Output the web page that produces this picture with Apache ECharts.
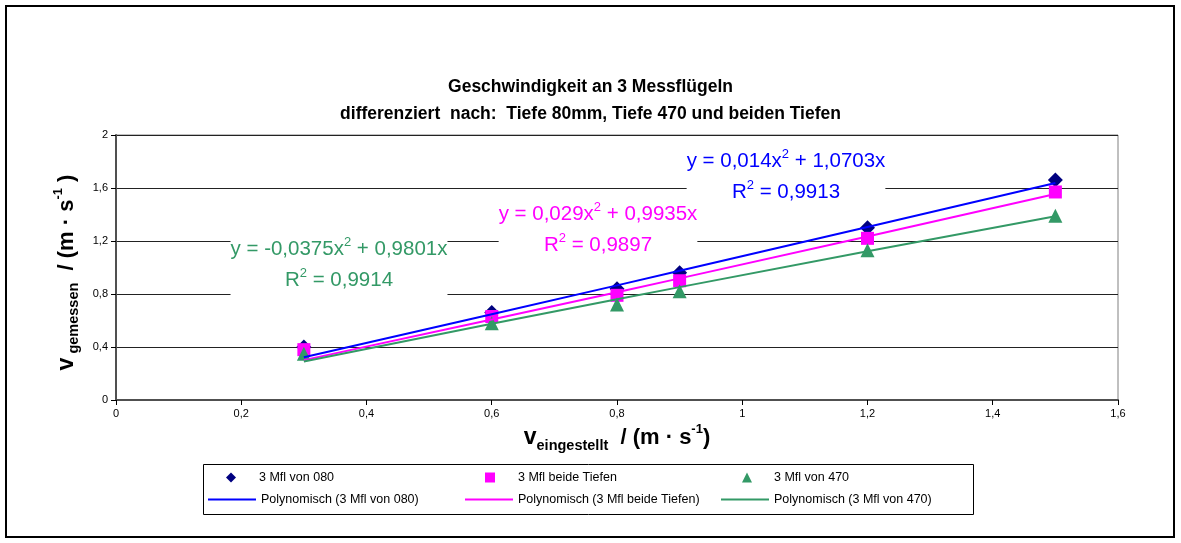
<!DOCTYPE html>
<html>
<head>
<meta charset="utf-8">
<script src="https://cdn.jsdelivr.net/npm/echarts@6/dist/echarts.min.js"></script>
<style>
  html, body { margin: 0; padding: 0; background: #fff; }
  #chart { width: 1181px; height: 543px; }
</style>
</head>
<body>
<div id="chart"></div>
<script>
// ---- data ----
const xSettings = [0.3, 0.6, 0.8, 0.9, 1.2, 1.5];
const mfl080 = [0.40, 0.66, 0.84, 0.96, 1.30, 1.66];
const mflBeide = [0.38, 0.63, 0.79, 0.90, 1.22, 1.57];
const mfl470 = [0.35, 0.58, 0.72, 0.82, 1.13, 1.39];
// trend line values (polynomial trendlines, as shown)
const trend080 = [0.322, 0.647, 0.865, 0.975, 1.305, 1.637];
const trendBeide = [0.301, 0.607, 0.813, 0.918, 1.234, 1.555];
const trend470 = [0.291, 0.575, 0.760, 0.852, 1.122, 1.386];
const xTickLabels = ['0', '0,2', '0,4', '0,6', '0,8', '1', '1,2', '1,4', '1,6'];
const yTickLabels = ['0', '0,4', '0,8', '1,2', '1,6', '2'];
const seriesNames = ['3 Mfl von 080', '3 Mfl beide Tiefen', '3 Mfl von 470',
  'Polynomisch (3 Mfl von 080)', 'Polynomisch (3 Mfl beide Tiefen)', 'Polynomisch (3 Mfl von 470)'];
const eqLines = [
  ['y = 0,014x', ' + 1,0703x', 'R', ' = 0,9913'],
  ['y = 0,029x', ' + 0,9935x', 'R', ' = 0,9897'],
  ['y = -0,0375x', ' + 0,9801x', 'R', ' = 0,9914']
];

const FONT = '"Liberation Sans", Arial, sans-serif';
const pairs = (ys) => xSettings.map((x, i) => [x, ys[i]]);

const chart = echarts.init(document.getElementById('chart'));

const nameRich = {
  v: { fontSize: 23, fontWeight: 'bold', fontFamily: FONT, lineHeight: 30, verticalAlign: 'middle', color: '#000' },
  sub: { fontSize: 14.5, fontWeight: 'bold', fontFamily: FONT, lineHeight: 14, verticalAlign: 'bottom', color: '#000' },
  t: { fontSize: 22, fontWeight: 'bold', fontFamily: FONT, lineHeight: 30, verticalAlign: 'middle', color: '#000' },
  sup: { fontSize: 13, fontWeight: 'bold', fontFamily: FONT, lineHeight: 13, verticalAlign: 'top', color: '#000' }
};

function legendSym(name, icon, center, top, pad) {
  return {
    data: [{ name: name, icon: icon }], left: center - 5, top: top, padding: 0,
    itemWidth: 10, itemHeight: 10, itemGap: 0, selectedMode: false,
    formatter: '{p| }{name}',
    textStyle: { fontFamily: FONT, fontSize: 12.5, color: '#000', rich: { p: { width: pad } } }
  };
}
function legendLine(name, left, top) {
  return {
    data: [{ name: name, icon: 'rect' }], left: left, top: top, padding: 0,
    itemWidth: 48, itemHeight: 2, itemGap: 0, selectedMode: false,
    textStyle: { fontFamily: FONT, fontSize: 12.5, color: '#000' }
  };
}

function eqText(lines) {
  return '{b|' + lines[0] + '}{s|2}{b|' + lines[1] + '}\n{b|' + lines[2] + '}{s|2}{b|' + lines[3] + '}';
}
function eqRich(color) {
  return {
    b: { fontFamily: FONT, fontSize: 20.5, fill: color, lineHeight: 31, verticalAlign: 'middle' },
    s: { fontFamily: FONT, fontSize: 13, fill: color, lineHeight: 13, verticalAlign: 'top', padding: [2, 0, 0, 0] }
  };
}

const option = {
  backgroundColor: '#fff',
  animation: false,
  title: {
    text: 'Geschwindigkeit an 3 Messflügeln\ndifferenziert  nach:  Tiefe 80mm, Tiefe 470 und beiden Tiefen',
    left: 'center', top: 69,
    textStyle: { fontFamily: FONT, fontSize: 17.5, fontWeight: 'bold', color: '#000', lineHeight: 27 }
  },
  grid: {
    left: 116, right: 63, top: 135, bottom: 143,
    show: true, borderColor: '#808080', borderWidth: 1, backgroundColor: '#fff'
  },
  xAxis: {
    type: 'value', min: 0, max: 1.6, interval: 0.2,
    name: '{v|v}{sub|eingestellt}{t|  / (m · s}{sup|-1}{t|)}',
    nameLocation: 'middle', nameGap: 23,
    nameTextStyle: { rich: nameRich },
    axisLine: { show: true, onZero: false, lineStyle: { color: '#505050', width: 2 } },
    axisTick: { show: true, inside: false, length: 5, lineStyle: { color: '#000' } },
    axisLabel: {
      margin: 8, fontFamily: FONT, fontSize: 11, color: '#000',
      formatter: (v) => xTickLabels[Math.round(v / 0.2)]
    },
    splitLine: { show: false }
  },
  yAxis: {
    type: 'value', min: 0, max: 2, interval: 0.4,
    name: '{v|v}{sub| gemessen}{t|  / (m · s}{sup|-1}{t| )}',
    nameLocation: 'middle', nameGap: 32, nameRotate: 90,
    nameTextStyle: { rich: nameRich, padding: [0, 10, 0, 0] },
    axisLine: { show: true, onZero: false, lineStyle: { color: '#505050', width: 2 } },
    axisTick: { show: true, inside: false, length: 5, lineStyle: { color: '#000' } },
    axisLabel: {
      margin: 8, fontFamily: FONT, fontSize: 11, color: '#000',
      formatter: (v) => yTickLabels[Math.round(v / 0.4)]
    },
    splitLine: { show: true, lineStyle: { color: '#222', width: 1 } }
  },
  legend: [
    legendSym(seriesNames[0], 'diamond', 231, 471, 18),
    legendSym(seriesNames[1], 'rect', 490, 471, 18),
    legendSym(seriesNames[2], 'triangle', 747, 471, 17),
    legendLine(seriesNames[3], 208, 493),
    legendLine(seriesNames[4], 465, 493),
    legendLine(seriesNames[5], 721, 493)
  ],
  series: [
    { name: seriesNames[0], type: 'scatter', data: pairs(mfl080), symbol: 'diamond', symbolSize: 15,
      itemStyle: { color: '#000080', opacity: 1 } },
    { name: seriesNames[1], type: 'scatter', data: pairs(mflBeide), symbol: 'rect', symbolSize: 13,
      itemStyle: { color: '#ff00ff', opacity: 1 } },
    { name: seriesNames[2], type: 'scatter', data: pairs(mfl470), symbol: 'triangle', symbolSize: 14,
      itemStyle: { color: '#339966', opacity: 1 } },
    { name: seriesNames[3], type: 'line', data: pairs(trend080), symbol: 'none', smooth: false,
      lineStyle: { color: '#0000ff', width: 2 }, itemStyle: { color: '#0000ff' } },
    { name: seriesNames[4], type: 'line', data: pairs(trendBeide), symbol: 'none', smooth: false,
      lineStyle: { color: '#ff00ff', width: 2 }, itemStyle: { color: '#ff00ff' } },
    { name: seriesNames[5], type: 'line', data: pairs(trend470), symbol: 'none', smooth: false,
      lineStyle: { color: '#339966', width: 2 }, itemStyle: { color: '#339966' } }
  ],
  graphic: [
    { type: 'rect', z: -10, silent: true,
      shape: { x: 6, y: 6, width: 1168, height: 531 },
      style: { fill: null, stroke: '#000', lineWidth: 2 } },
    { type: 'rect', z: 1, silent: true,
      shape: { x: 203.5, y: 464.5, width: 770, height: 50 },
      style: { fill: null, stroke: '#000', lineWidth: 1 } },
    { type: 'text', z: 5, x: 786, y: 177,
      style: { text: eqText(eqLines[0]), rich: eqRich('#0000ff'), fill: '#0000ff', font: '20.5px ' + FONT,
        align: 'center', verticalAlign: 'middle', backgroundColor: '#fff', padding: [2, 0, 2, 0] } },
    { type: 'text', z: 5, x: 598, y: 230,
      style: { text: eqText(eqLines[1]), rich: eqRich('#ff00ff'), fill: '#ff00ff', font: '20.5px ' + FONT,
        align: 'center', verticalAlign: 'middle', backgroundColor: '#fff', padding: [2, 0, 2, 0] } },
    { type: 'text', z: 5, x: 339, y: 265,
      style: { text: eqText(eqLines[2]), rich: eqRich('#339966'), fill: '#339966', font: '20.5px ' + FONT,
        align: 'center', verticalAlign: 'middle', backgroundColor: '#fff', padding: [2, 0, 2, 0] } }
  ]
};

chart.setOption(option);
</script>
</body>
</html>
